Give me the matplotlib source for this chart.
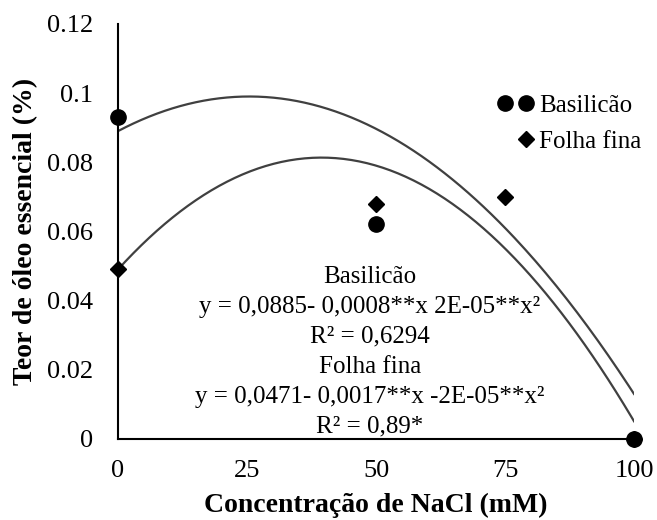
import matplotlib.pyplot as plt
import numpy as np

plt.rcParams['font.family'] = ['Liberation Serif', 'DejaVu Serif']

# NaCl concentration (mM)
conc = [0, 50, 75, 100]
basilicao = [0.093, 0.062, 0.097, 0.0]
folha_fina = [0.049, 0.068, 0.070, 0.0]

# quadratic trend lines (a, b, c)
coef_basilicao = [0.089, 0.000787, -1.547e-05]
coef_folha = [0.049, 0.00164, -2.079e-05]

eq_lines = ["Basilicão",
            "y = 0,0885- 0,0008**x 2E-05**x²",
            "R² = 0,6294",
            "Folha fina",
            "y = 0,0471- 0,0017**x -2E-05**x²",
            "R² = 0,89*"]

fig = plt.figure(figsize=(6.57, 5.2), dpi=100)
ax = fig.add_axes([0.1796, 0.156, 0.7854, 0.798])

xs = np.linspace(0, 100, 200)
for a, b, c in (coef_basilicao, coef_folha):
    ax.plot(xs, a + b * xs + c * xs ** 2, color='#404040', lw=1.6, zorder=2)

ax.plot(conc, folha_fina, 'D', color='black', ms=8, label='Folha fina', zorder=3, clip_on=False)
ax.plot(conc, basilicao, 'o', color='black', ms=11, label='Basilicão', zorder=4, clip_on=False)

ax.set_xlim(0, 100)
ax.set_ylim(0, 0.12)
ax.set_xticks([0, 25, 50, 75, 100])
ax.set_yticks([0, 0.02, 0.04, 0.06, 0.08, 0.1, 0.12])
ax.set_yticklabels(['0', '0.02', '0.04', '0.06', '0.08', '0.1', '0.12'])
ax.tick_params(length=0, labelsize=19)
ax.tick_params(axis='x', pad=15)
ax.tick_params(axis='y', pad=18)
for s in ('top', 'right'):
    ax.spines[s].set_visible(False)
for s in ('left', 'bottom'):
    ax.spines[s].set_linewidth(1.5)
    ax.spines[s].set_color('black')

ax.set_xlabel('Concentração de NaCl (mM)', fontsize=20, fontweight='bold', labelpad=8)
ax.set_ylabel('Teor de óleo essencial (%)', fontsize=20, fontweight='bold', labelpad=6)

ax.text(48.8, 0.0252, "\n".join(eq_lines), ha='center', va='center',
        fontsize=18, linespacing=1.47)

handles, labels = ax.get_legend_handles_labels()
ax.legend(handles[::-1], labels[::-1], loc='upper left', bbox_to_anchor=(0.778, 0.83),
          frameon=False, fontsize=18, handlelength=0.5, handletextpad=0.3,
          borderpad=0, labelspacing=0.53, borderaxespad=0)

fig.savefig('out.png', dpi=100)
